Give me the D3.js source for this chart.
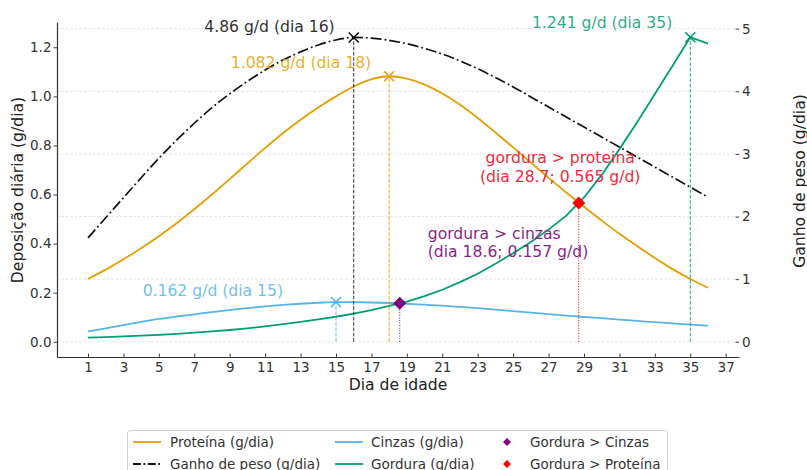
<!DOCTYPE html>
<html>
<head>
<meta charset="utf-8">
<script src="https://cdn.jsdelivr.net/npm/d3@7"></script>
<style>
body { margin: 0; background: #fff; }
svg { font-family: "DejaVu Sans", sans-serif; }
</style>
</head>
<body>
<div id="chart"></div>
<script>
// dados
var dias = [1, 2, 3, 4, 5, 6, 7, 8, 9, 10, 11, 12, 13, 14, 15, 16, 17, 18,
    19, 20, 21, 22, 23, 24, 25, 26, 27, 28, 29, 30, 31, 32, 33, 34, 35, 36];

var proteina = [0.256, 0.294, 0.336, 0.381, 0.43, 0.483, 0.54, 0.6, 0.663, 0.727, 0.79, 0.85,
    0.905, 0.955, 1.0, 1.04, 1.07, 1.082, 1.072, 1.048, 1.012, 0.966, 0.912, 0.853,
    0.792, 0.73, 0.668, 0.608, 0.55, 0.494, 0.44, 0.39, 0.341, 0.296, 0.256, 0.22];

var cinzas = [0.042, 0.055, 0.068, 0.081, 0.093, 0.103, 0.112, 0.121, 0.129, 0.137, 0.144, 0.15,
    0.155, 0.159, 0.162, 0.1615, 0.16, 0.158, 0.155, 0.151, 0.147, 0.142, 0.137, 0.131,
    0.125, 0.119, 0.113, 0.107, 0.101, 0.096, 0.09, 0.085, 0.08, 0.075, 0.07, 0.066];

var gordura = [0.017, 0.019, 0.022, 0.025, 0.028, 0.032, 0.037, 0.042, 0.048, 0.055, 0.063, 0.072,
    0.081, 0.091, 0.102, 0.115, 0.129, 0.146, 0.164, 0.186, 0.212, 0.243, 0.277, 0.318,
    0.361, 0.407, 0.457, 0.514, 0.588, 0.68, 0.785, 0.895, 1.01, 1.125, 1.241, 1.215];

// eixo da direita
var ganhoPeso = [1.66, 1.98, 2.3, 2.62, 2.93, 3.22, 3.49, 3.74, 3.96, 4.16, 4.34, 4.5,
    4.63, 4.74, 4.82, 4.86, 4.85, 4.815, 4.76, 4.685, 4.595, 4.485, 4.36, 4.22,
    4.07, 3.91, 3.75, 3.59, 3.43, 3.27, 3.11, 2.95, 2.79, 2.63, 2.47, 2.31];

var ticksX = [1, 3, 5, 7, 9, 11, 13, 15, 17, 19, 21, 23, 25, 27, 29, 31, 33, 35, 37];
var ticksEsq = [0, 0.2, 0.4, 0.6, 0.8, 1.0, 1.2];
var ticksDir = [0, 1, 2, 3, 4, 5];

// picos e cruzamentos
var picoDias = [16, 18, 15, 35];
var picoValores = [4.86, 1.082, 0.162, 1.241];
var picoTextos = ["4.86 g/d (dia 16)", "1.082 g/d (dia 18)", "0.162 g/d (dia 15)", "1.241 g/d (dia 35)"];

var cruzDias = [18.6, 28.7];
var cruzValores = [0.157, 0.565];
var cruzTextos = [["gordura > cinzas", "(dia 18.6; 0.157 g/d)"],
    ["gordura > proteina", "(dia 28.7; 0.565 g/d)"]];

var legendaTextos = ["Proteína (g/dia)", "Ganho de peso (g/dia)", "Cinzas (g/dia)",
    "Gordura (g/dia)", "Gordura > Cinzas", "Gordura > Proteína"];

var svgWidth = 807;
var svgHeight = 470;

var cores = {
    proteina: "#E69F00",
    cinzas: "#56B4E9",
    gordura: "#009E73",
    ganho: "#111111",
    cruzCinzas: "#800080",
    cruzProteina: "#ff0000"
};

var svg = d3.select("#chart")
    .append("svg")
    .attr("width", svgWidth)
    .attr("height", svgHeight);

var xScale = d3.scaleLinear().domain([-0.75, 37.75]).range([57, 739]);
var yLeft = d3.scaleLinear().domain([-0.062, 1.303]).range([357, 22]);
var yRight = d3.scaleLinear().domain([-0.243, 5.107]).range([357, 22]);

// grade (segue o eixo da direita)
svg.append("g")
    .selectAll("line")
    .data(ticksDir)
    .enter()
    .append("line")
    .attr("x1", 57)
    .attr("x2", 739)
    .attr("y1", d => yRight(d))
    .attr("y2", d => yRight(d))
    .attr("stroke", "#dcdcdc")
    .attr("stroke-width", 0.8)
    .attr("stroke-dasharray", "2.5,2");

// eixos
var bottomAxis = d3.axisBottom(xScale)
    .tickValues(ticksX)
    .tickSizeInner(-3.5)
    .tickSizeOuter(0)
    .tickPadding(5);
var leftAxis = d3.axisLeft(yLeft)
    .tickValues(ticksEsq)
    .tickFormat(d3.format(".1f"))
    .tickSizeInner(3.5)
    .tickSizeOuter(0)
    .tickPadding(2);
var rightAxis = d3.axisRight(yRight)
    .tickValues(ticksDir)
    .tickFormat(d3.format("d"))
    .tickSizeInner(-3.5)
    .tickSizeOuter(0)
    .tickPadding(3);

var xAxis = svg.append("g")
    .attr("transform", "translate(0,357)")
    .call(bottomAxis);
var yAxisL = svg.append("g")
    .attr("transform", "translate(57,0)")
    .call(leftAxis);
var yAxisR = svg.append("g")
    .attr("transform", "translate(739,0)")
    .call(rightAxis);
yAxisR.select(".domain").remove();

[xAxis, yAxisL, yAxisR].forEach(function(ax) {
    ax.selectAll("text")
        .attr("font-family", "DejaVu Sans")
        .attr("font-size", 13.5)
        .attr("fill", "#333");
    ax.selectAll("line").attr("stroke", "#444").attr("stroke-width", 1);
    ax.select(".domain").attr("stroke", "#333").attr("stroke-width", 1.2);
});

// titulos dos eixos
svg.append("text")
    .attr("x", 398)
    .attr("y", 390)
    .attr("text-anchor", "middle")
    .attr("font-size", 15.6)
    .attr("fill", "#222")
    .text("Dia de idade");

svg.append("text")
    .attr("transform", "translate(18,190) rotate(-90)")
    .attr("dy", "0.35em")
    .attr("text-anchor", "middle")
    .attr("font-size", 15.6)
    .attr("fill", "#222")
    .text("Deposição diária (g/dia)");

svg.append("text")
    .attr("transform", "translate(800,181) rotate(-90)")
    .attr("dy", "0.35em")
    .attr("text-anchor", "middle")
    .attr("font-size", 15.6)
    .attr("fill", "#222")
    .text("Ganho de peso (g/dia)");

// curvas
var lineLeft = d3.line()
    .x((d, i) => xScale(dias[i]))
    .y(d => yLeft(d))
    .curve(d3.curveMonotoneX);
var lineRight = d3.line()
    .x((d, i) => xScale(dias[i]))
    .y(d => yRight(d))
    .curve(d3.curveMonotoneX);
// gordura tem pico agudo no dia 35
var lineGordura = d3.line()
    .x((d, i) => xScale(dias[i]))
    .y(d => yLeft(d));

svg.append("path").datum(proteina)
    .attr("d", lineLeft).attr("fill", "none")
    .attr("stroke", cores.proteina).attr("stroke-width", 1.8);
svg.append("path").datum(cinzas)
    .attr("d", lineLeft).attr("fill", "none")
    .attr("stroke", cores.cinzas).attr("stroke-width", 1.8);
svg.append("path").datum(gordura)
    .attr("d", lineGordura).attr("fill", "none")
    .attr("stroke", cores.gordura).attr("stroke-width", 1.8)
    .attr("stroke-linejoin", "round");
svg.append("path").datum(ganhoPeso)
    .attr("d", lineRight).attr("fill", "none")
    .attr("stroke", cores.ganho).attr("stroke-width", 1.7)
    .attr("stroke-dasharray", "11,3,1.8,3");

// linhas verticais dos picos (ganho, proteina, cinzas, gordura)
var picoCores = [cores.ganho, cores.proteina, cores.cinzas, cores.gordura];
var picoY = [yRight(picoValores[0]), yLeft(picoValores[1]), yLeft(picoValores[2]), yLeft(picoValores[3])];

picoDias.forEach(function(dia, i) {
    svg.append("line")
        .attr("x1", xScale(dia)).attr("x2", xScale(dia))
        .attr("y1", yLeft(0)).attr("y2", picoY[i])
        .attr("stroke", picoCores[i])
        .attr("stroke-width", 1)
        .attr("stroke-opacity", i == 0 ? 0.85 : 0.9)
        .attr("stroke-dasharray", "3.7,1.6");
    var px = xScale(dia), py = picoY[i];
    svg.append("path")
        .attr("d", `M${px - 5},${py - 5}L${px + 5},${py + 5}M${px - 5},${py + 5}L${px + 5},${py - 5}`)
        .attr("stroke", picoCores[i])
        .attr("stroke-width", 1.6)
        .attr("fill", "none");
});

// textos dos picos
var picoOffsets = [[-19, -5], [-18, -8], [-53, -6], [-18, -9]];
picoTextos.forEach(function(t, i) {
    svg.append("text")
        .attr("x", xScale(picoDias[i]) + picoOffsets[i][0])
        .attr("y", picoY[i] + picoOffsets[i][1])
        .attr("text-anchor", "end")
        .attr("font-size", 15.6)
        .attr("fill", picoCores[i])
        .attr("fill-opacity", i == 0 ? 0.9 : 0.85)
        .text(t);
});

// cruzamentos
var cruzCores = [cores.cruzCinzas, cores.cruzProteina];
var cruzTextoCores = ["#8a1f8a", "#ee2a3c"];
var diamante = "M0,-6.5L6.5,0L0,6.5L-6.5,0Z";

cruzDias.forEach(function(dia, i) {
    var px = xScale(dia), py = yLeft(cruzValores[i]);
    svg.append("line")
        .attr("x1", px).attr("x2", px)
        .attr("y1", yLeft(0)).attr("y2", py)
        .attr("stroke", cruzCores[i])
        .attr("stroke-width", 1)
        .attr("stroke-dasharray", "1,1.6");
    svg.append("path")
        .attr("d", diamante)
        .attr("transform", `translate(${px},${py})`)
        .attr("fill", cruzCores[i]);
});

// gordura > cinzas (alinhado a esquerda)
var tc = svg.append("text")
    .attr("font-size", 15.6)
    .attr("fill", cruzTextoCores[0]);
cruzTextos[0].forEach(function(linha, j) {
    tc.append("tspan")
        .attr("x", xScale(cruzDias[0]) + 28)
        .attr("y", yLeft(cruzValores[0]) - 64 + j * 18)
        .text(linha);
});

// gordura > proteina (centralizado)
var tp = svg.append("text")
    .attr("font-size", 15.6)
    .attr("text-anchor", "middle")
    .attr("fill", cruzTextoCores[1]);
cruzTextos[1].forEach(function(linha, j) {
    tp.append("tspan")
        .attr("x", xScale(cruzDias[1]) - 18.5)
        .attr("y", yLeft(cruzValores[1]) - 40 + j * 19)
        .text(linha);
});

// legenda
var legenda = svg.append("g");
legenda.append("rect")
    .attr("x", 127.5).attr("y", 430.5)
    .attr("width", 540).attr("height", 60)
    .attr("rx", 3)
    .attr("fill", "#fff")
    .attr("stroke", "#d0d0d0");

var legTipos = ["line", "line", "line", "line", "diamond", "diamond"];
var legCores = [cores.proteina, cores.ganho, cores.cinzas, cores.gordura, cores.cruzCinzas, cores.cruzProteina];
var colHandle = [133, 335, 493];
var colTexto = [170, 371, 530];
var linhaY = [442, 464];

legendaTextos.forEach(function(t, i) {
    var col = Math.floor(i / 2), row = i % 2;
    var y = linhaY[row];
    if (legTipos[i] == "line") {
        legenda.append("line")
            .attr("x1", colHandle[col]).attr("x2", colHandle[col] + 28)
            .attr("y1", y).attr("y2", y)
            .attr("stroke", legCores[i])
            .attr("stroke-width", 1.8)
            .attr("stroke-dasharray", i == 1 ? "8,2.5,1.8,2.5" : null);
    } else {
        legenda.append("path")
            .attr("d", "M0,-4L4,0L0,4L-4,0Z")
            .attr("transform", `translate(${colHandle[col] + 14},${y})`)
            .attr("fill", legCores[i]);
    }
    legenda.append("text")
        .attr("x", colTexto[col])
        .attr("y", y)
        .attr("dy", "0.35em")
        .attr("font-size", 13.5)
        .attr("fill", "#333")
        .text(t);
});
</script>
</body>
</html>
